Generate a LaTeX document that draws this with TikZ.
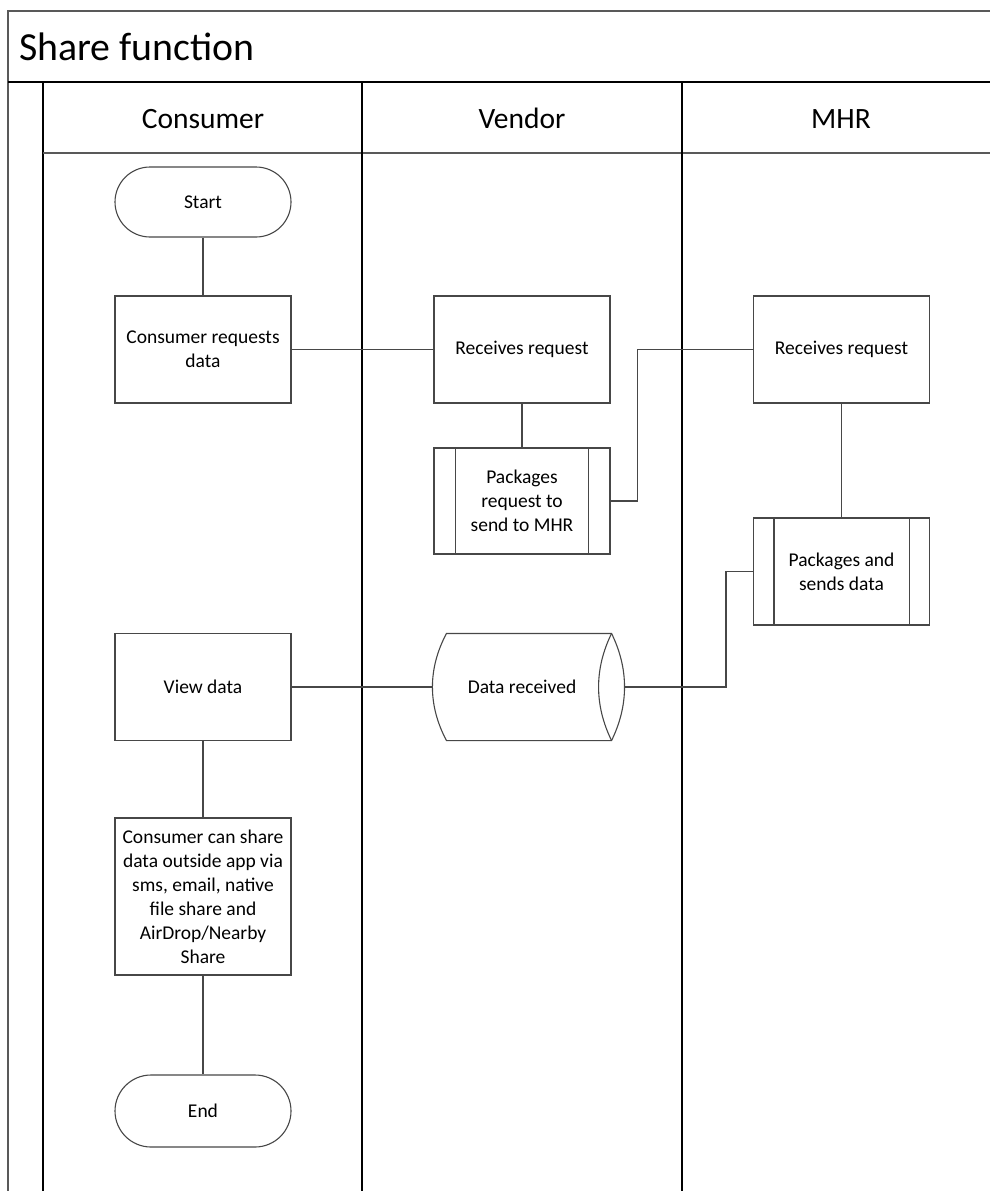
\documentclass[tikz,border=0pt]{standalone}
\usepackage{fontspec}
\setmainfont{Carlito}
\usetikzlibrary{calc}
\newcommand{\nodefnt}{\fontsize{19.5}{24}\selectfont}
\newcommand{\titlefnt}{\fontsize{39.8}{46}\selectfont}
\newcommand{\headfnt}{\fontsize{29.5}{35}\selectfont}
\begin{document}
\begin{tikzpicture}[x=1pt,y=-1pt,
  frame/.style={draw=black!65, line width=1.4pt},
  lane/.style={draw=black, line width=1.1pt},
  proc/.style={draw=black!72, line width=1.1pt, minimum width=176pt, minimum height=107pt, align=center, font=\nodefnt, inner sep=0pt},
  term/.style={proc, minimum height=70pt, rounded corners=35pt},
  conn/.style={draw=black!72, line width=1.1pt},
  head/.style={anchor=base, font=\headfnt, inner sep=0pt}]
\useasboundingbox (0,0) rectangle (990,1191);
% pool and lanes
\draw[frame] (8,1191) -- (8,11) -- (990,11);
\draw[lane] (8,82) -- (990,82);
\draw[lane] (43,82) -- (43,1191);
\draw[frame] (43,153) -- (990,153);
\draw[lane] (362,82) -- (362,1191);
\draw[lane] (682,82) -- (682,1191);
\node[anchor=base west, font=\titlefnt, inner sep=0pt] (title) at (19,60) {Share function};
\node[head] (hcons) at (203,128) {Consumer};
\node[head] (hvend) at (522,128) {Vendor};
\node[head] (hmhr) at (841,128) {MHR};
% nodes
\node[term] (start) at (203,202) {Start};
\node[proc] (creq) at (203,349.5) {Consumer requests\\data};
\node[proc] (vrec) at (522,349.5) {Receives request};
\node[proc, minimum height=106pt] (pk) at (522,501) {Packages\\request to\\send to MHR};
\draw[conn] ($(pk.north west)+(22,0)$) -- ($(pk.south west)+(22,0)$);
\draw[conn] ($(pk.north east)+(-22,0)$) -- ($(pk.south east)+(-22,0)$);
\node[proc] (mrec) at (841.5,349.5) {Receives request};
\node[proc] (mpk) at (841.5,571.5) {Packages and\\sends data};
\draw[conn] ($(mpk.north west)+(21,0)$) -- ($(mpk.south west)+(21,0)$);
\draw[conn] ($(mpk.north east)+(-21,0)$) -- ($(mpk.south east)+(-21,0)$);
\node[proc] (view) at (203,687) {View data};
\node[proc, draw=none, minimum width=178pt, minimum height=106pt] (dr) at (522,687) {Data received};
\draw[conn] ($(dr.north west)+(14,0)$) -- ($(dr.north east)$)
  .. controls ($(dr.north east)+(17.3,35.3)$) and ($(dr.south east)+(17.3,-35.3)$) .. (dr.south east)
  -- ($(dr.south west)+(14,0)$)
  .. controls ($(dr.south west)+(-4.7,-35.3)$) and ($(dr.north west)+(-4.7,35.3)$) .. ($(dr.north west)+(14,0)$) -- cycle;
\draw[conn] (dr.north east) .. controls ($(dr.north east)+(-17.3,35.3)$) and ($(dr.south east)+(-17.3,-35.3)$) .. (dr.south east);
\coordinate (dre) at ($(dr.east)+(13,0)$);
\node[proc, minimum height=157pt] (share) at (203,896.5) {Consumer can share\\data outside app via\\sms, email, native\\file share and\\AirDrop/Nearby\\Share};
\node[term, minimum height=72pt, rounded corners=36pt] (endn) at (203,1111) {End};
% connectors
\draw[conn] (start) -- (creq);
\draw[conn] (creq) -- (vrec);
\draw[conn] (vrec) -- (pk);
\draw[conn] (pk.east) -- ++(27,0) |- (mrec.west);
\draw[conn] (mrec) -- (mpk);
\draw[conn] (mpk.west) -- ++(-27,0) |- (dre);
\draw[conn] (view) -- (dr);
\draw[conn] (view) -- (share);
\draw[conn] (share) -- (endn);
\end{tikzpicture}
\end{document}
